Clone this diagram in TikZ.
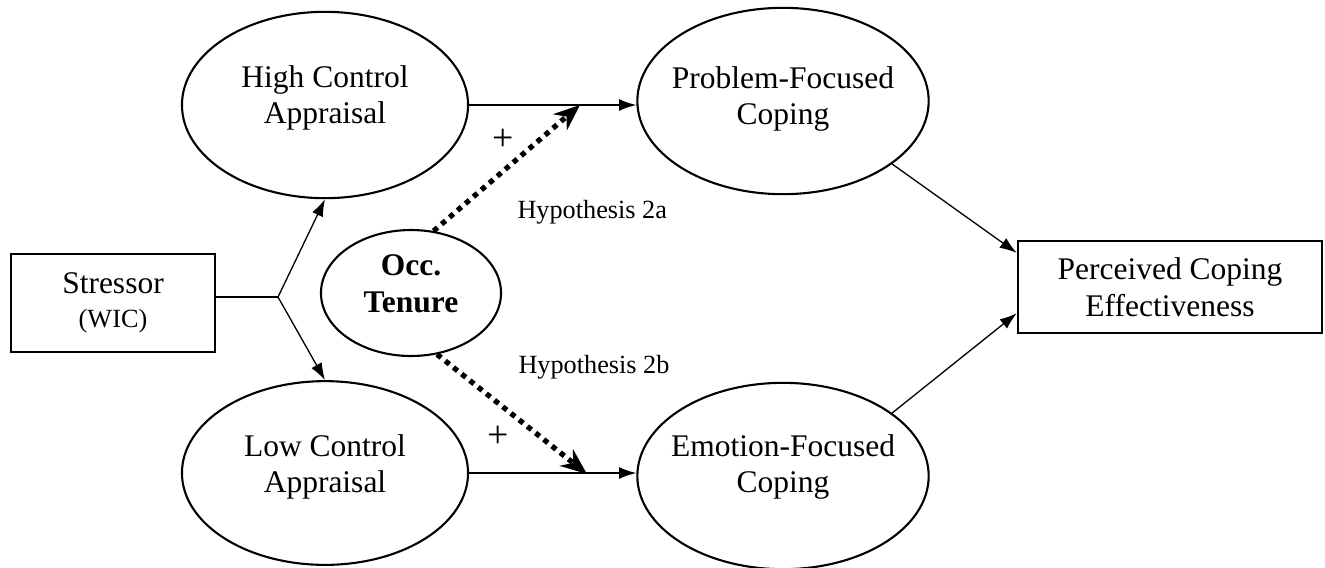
\documentclass[tikz,border=0pt]{standalone}
\usepackage{fontspec}
\setmainfont{Liberation Serif}
\usetikzlibrary{shapes.geometric,arrows.meta}

\begin{document}
\begin{tikzpicture}[x=0.381pt, y=-0.381pt,
    oval/.style={draw, ellipse, line width=0.8pt, inner sep=0pt},
    words/.style={align=center, font=\large, inner sep=0pt},
    panel/.style={draw, rectangle, line width=0.8pt, align=center, font=\large},
    link/.style={-{Latex[length=6.5pt,width=4.5pt]}, line width=0.5pt},
    moderate/.style={-{Stealth[length=10pt,width=8pt]}, line width=2pt, dash pattern=on 2pt off 2pt},
    sign/.style={font=\Large, inner sep=0pt},
    note/.style={font=\normalsize, inner sep=0pt, anchor=west}]
    \useasboundingbox (0,0) rectangle (1325,567);

    % Boxes
    \node[panel, minimum width=77.7pt, minimum height=37.3pt] (stressor) at (113,303)
        {Stressor\\[-1pt]{\normalsize (WIC)}};
    \node[panel, minimum width=116pt, minimum height=35pt] (pce) at (1170,287)
        {Perceived Coping\\Effectiveness};

    % Ovals
    \node[oval, minimum width=109pt, minimum height=71pt] (hca) at (325,105) {};
    \node[oval, minimum width=109pt, minimum height=70pt] (lca) at (325,473) {};
    \node[oval, minimum width=111pt, minimum height=71pt] (pfc) at (783,101) {};
    \node[oval, minimum width=111pt, minimum height=71pt] (efc) at (783,476) {};
    \node[oval, minimum width=68.6pt, minimum height=48pt] (occ) at (411,293) {};

    \node[words] (hca text) at (325,98) {High Control\\Appraisal};
    \node[words] (lca text) at (325,467) {Low Control\\Appraisal};
    \node[words] (pfc text) at (783,99) {Problem-Focused\\Coping};
    \node[words] (efc text) at (783,467) {Emotion-Focused\\Coping};
    \node[words, font=\large\bfseries] (occ text) at (411,284) {Occ.\\Tenure};

    % Stressor split
    \coordinate (fork) at (278,297);
    \draw[line width=0.5pt] (stressor.east |- fork) -- (fork);
    \draw[link] (fork) -- (hca.south);
    \draw[link] (fork) -- (lca.north);

    % Appraisal to coping
    \draw[link] (hca.east) -- (hca.east -| pfc.west);
    \draw[link] (lca.east) -- (lca.east -| efc.west);

    % Moderation by tenure
    \coordinate (tip a) at (580,105);
    \coordinate (tip b) at (587,474);
    \draw[moderate] (occ.70) -- (tip a);
    \draw[moderate] (occ.-67) -- (tip b);

    % Coping to effectiveness
    \draw[link] (pfc.-30) -- ([yshift=13pt]pce.west);
    \draw[link] (efc.30) -- ([yshift=-10pt]pce.west);

    % Labels
    \node[sign] (plus a) at (503,140) {+};
    \node[sign] (plus b) at (498,437) {+};
    \node[note] (hyp a) at (517,212) {Hypothesis 2a};
    \node[note] (hyp b) at (518,367) {Hypothesis 2b};
\end{tikzpicture}
\end{document}
